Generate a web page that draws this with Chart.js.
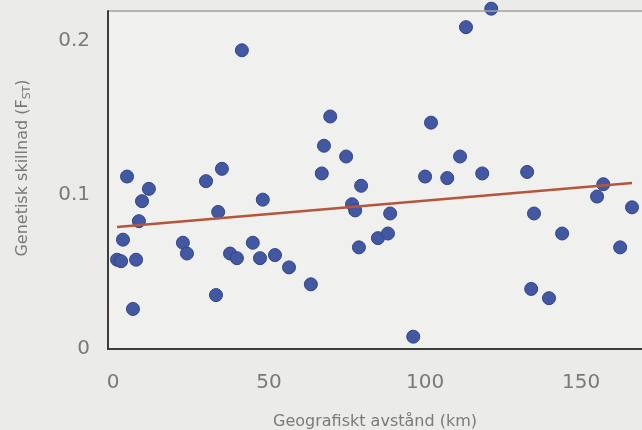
<!DOCTYPE html>
<html>
<head>
<meta charset="utf-8">
<script src="https://cdn.jsdelivr.net/npm/chart.js@4"></script>
<style>
  html, body { margin: 0; padding: 0; background: #ebebea; overflow: hidden; }
  #wrap { width: 642px; height: 430px; }
</style>
</head>
<body>
<div id="wrap"><canvas id="chart" width="642" height="430"></canvas></div>
<script>
// Avstånd (km) och genetisk skillnad (FST)
const distanceKm = [1.3, 2.6, 3.2, 4.5, 6.4, 7.4, 8.3, 9.3, 11.5, 22.4,
  23.7, 29.8, 33.0, 33.7, 34.9, 37.5, 39.7, 41.3, 44.8, 47.1,
  48.0, 51.9, 56.4, 63.4, 66.9, 67.6, 69.6, 74.7, 76.6, 77.6,
  78.8, 79.5, 84.9, 88.1, 88.8, 96.2, 100.0, 101.9, 107.1, 111.2,
  113.1, 118.3, 121.2, 132.7, 134.0, 134.9, 139.7, 143.9, 155.1, 157.1,
  162.5, 166.3];
const fstValues = [0.058, 0.057, 0.071, 0.112, 0.026, 0.058, 0.083, 0.096, 0.104, 0.069,
  0.062, 0.109, 0.035, 0.089, 0.117, 0.062, 0.059, 0.194, 0.069, 0.059,
  0.097, 0.061, 0.053, 0.042, 0.114, 0.132, 0.151, 0.125, 0.094, 0.090,
  0.066, 0.106, 0.072, 0.075, 0.088, 0.008, 0.112, 0.147, 0.111, 0.125,
  0.209, 0.114, 0.221, 0.115, 0.039, 0.088, 0.033, 0.075, 0.099, 0.107,
  0.066, 0.092];

// Regressionslinje
const trendKm = [1.3, 166.3];
const trendFst = [0.0792, 0.1078];

const xTicks = [0, 50, 100, 150];
const yTicks = [0, 0.1, 0.2];

const xTitle = 'Geografiskt avstånd (km)';
const yTitle = 'Genetisk skillnad (F';
const yTitleSub = 'ST';

const points = distanceKm.map((x, i) => ({ x: x, y: fstValues[i] }));
const trend = trendKm.map((x, i) => ({ x: x, y: trendFst[i] }));

/**
 * Ram, bakgrund och axeltitlar
 */
const framePlugin = {
  id: 'frame',
  beforeDraw(chart) {
    const { ctx, chartArea: a } = chart;
    ctx.save();
    ctx.fillStyle = '#f0f0ef';
    ctx.fillRect(a.left, a.top, a.right - a.left, a.bottom - a.top);
    ctx.restore();
  },
  afterDatasetsDraw(chart) {
    const { ctx, chartArea: a } = chart;
    ctx.save();
    // övre linje
    ctx.strokeStyle = '#a2a2a2';
    ctx.lineWidth = 1.5;
    ctx.beginPath();
    ctx.moveTo(a.left, a.top);
    ctx.lineTo(chart.width, a.top);
    ctx.stroke();
    // vänster och nedre axel
    ctx.strokeStyle = '#3c3c3c';
    ctx.lineWidth = 2;
    ctx.beginPath();
    ctx.moveTo(a.left, a.top - 0.75);
    ctx.lineTo(a.left, a.bottom);
    ctx.lineTo(chart.width, a.bottom);
    ctx.stroke();

    // x-titel
    ctx.fillStyle = '#7a7a7a';
    ctx.font = '16px "DejaVu Sans"';
    ctx.textAlign = 'center';
    ctx.textBaseline = 'alphabetic';
    ctx.fillText(xTitle, (a.left + chart.width) / 2, 426);

    // y-titel med nedsänkt ST
    ctx.translate(27, 168);
    ctx.rotate(-Math.PI / 2);
    const mainFont = '16px "DejaVu Sans"';
    const subFont = '11px "DejaVu Sans"';
    ctx.font = mainFont;
    const w1 = ctx.measureText(yTitle).width;
    ctx.font = subFont;
    const w2 = ctx.measureText(yTitleSub).width;
    ctx.font = mainFont;
    const w3 = ctx.measureText(')').width;
    let x = -(w1 + w2 + w3) / 2;
    ctx.textAlign = 'left';
    ctx.fillText(yTitle, x, 0);
    x += w1;
    ctx.font = subFont;
    ctx.fillText(yTitleSub, x, 3);
    x += w2;
    ctx.font = mainFont;
    ctx.fillText(')', x, 0);
    ctx.restore();
  }
};

new Chart(document.getElementById('chart'), {
  type: 'scatter',
  data: {
    datasets: [
      {
        type: 'line',
        data: trend,
        borderColor: '#b5553d',
        borderWidth: 2.5,
        pointRadius: 0,
        fill: false,
        order: 0
      },
      {
        data: points,
        backgroundColor: '#4258a2',
        borderColor: '#324488',
        borderWidth: 1,
        pointRadius: 6.5,
        clip: false,
        order: 1
      }
    ]
  },
  plugins: [framePlugin],
  options: {
    responsive: false,
    animation: false,
    layout: { autoPadding: false, padding: { top: 11, right: 0, bottom: 0, left: 0 } },
    plugins: {
      legend: { display: false },
      tooltip: { enabled: false }
    },
    scales: {
      x: {
        type: 'linear',
        min: -1.6,
        max: 169.5,
        grid: { display: false, drawTicks: false },
        border: { display: false },
        afterBuildTicks: scale => { scale.ticks = xTicks.map(v => ({ value: v })); },
        afterFit: scale => {
          scale.height = 81;
          scale.paddingLeft = 0;
          scale.paddingRight = 0;
        },
        ticks: {
          padding: 22,
          color: '#7a7a7a',
          font: { family: 'DejaVu Sans', size: 20 },
          callback: v => String(v)
        }
      },
      y: {
        type: 'linear',
        min: 0,
        max: 0.2195,
        grid: { display: false, drawTicks: false },
        border: { display: false },
        afterBuildTicks: scale => { scale.ticks = yTicks.map(v => ({ value: v })); },
        afterFit: scale => {
          scale.width = 108;
          scale.paddingTop = 0;
          scale.paddingBottom = 0;
        },
        ticks: {
          padding: 18,
          color: '#7a7a7a',
          font: { family: 'DejaVu Sans', size: 20 },
          callback: v => String(v)
        }
      }
    }
  }
});
</script>
</body>
</html>
